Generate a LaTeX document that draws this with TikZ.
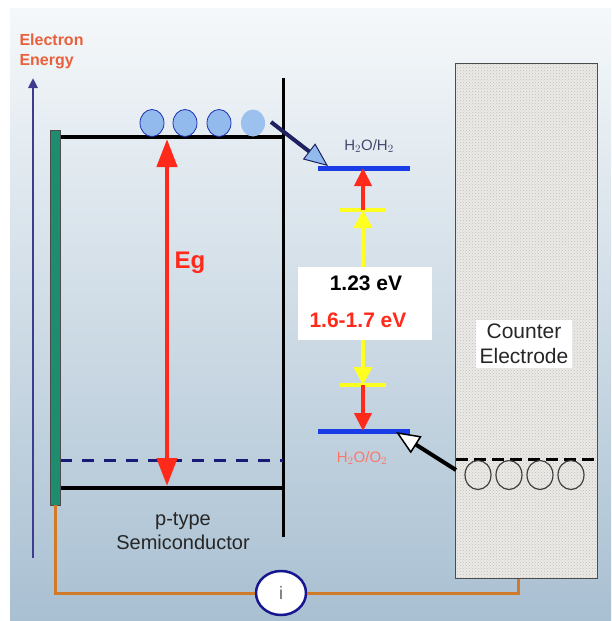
\documentclass[tikz,border=0pt]{standalone}
\usepackage{fontspec}
\setmainfont{Liberation Sans}
\usetikzlibrary{arrows.meta,shapes.geometric,patterns}
\definecolor{bgtop}{HTML}{F5F8FA}
\definecolor{bgbot}{HTML}{A9C0D2}
\definecolor{axisblue}{HTML}{3E3C8E}
\definecolor{contact}{HTML}{1E8C6E}
\definecolor{ered}{HTML}{FF2A1A}
\definecolor{eyellow}{HTML}{FFFF22}
\definecolor{redox}{HTML}{1A3CE6}
\definecolor{wire}{HTML}{D17A2A}
\definecolor{labelred}{HTML}{E8603C}
\definecolor{electron}{HTML}{92BAEC}
\definecolor{navy}{HTML}{1F2060}
\definecolor{electrode}{HTML}{ECEAE6}
\tikzset{
 band/.style={line width=3.5pt,black},
 redarrow/.style={line width=4pt,ered,-{Triangle[width=17pt,length=18pt]}},
 yelarrow/.style={line width=4pt,eyellow,-{Triangle[width=18pt,length=18pt]}},
 yelbar/.style={line width=4pt,eyellow},
 redoxline/.style={line width=5pt,redox},
 blob/.style={ellipse,minimum width=24pt,minimum height=27pt,inner sep=0pt,fill=electron,draw=redox!60!navy,line width=0.8pt},
 hole/.style={ellipse,minimum width=26pt,minimum height=29pt,inner sep=0pt,draw=black!75,line width=1.2pt},
 txt/.style={font=\fontsize{20}{24}\selectfont,text=black!85,align=center},
}
\begin{document}
\begin{tikzpicture}[x=1pt,y=-1pt]
\useasboundingbox (0,0) rectangle (611,621);
\shade[top color=bgtop,bottom color=bgbot] (10,8) rectangle (611,620);

% energy axis
\node[labelred,font=\fontsize{16}{20}\selectfont\bfseries,align=left,anchor=north west] (axislabel) at (16,30) {Electron\\Energy};
\coordinate (axisbot) at (33,558);
\coordinate (axistop) at (33,78);
\draw[axisblue,line width=2.5pt,-{Triangle[width=9pt,length=10pt]}] (axisbot)--(axistop);

% semiconductor
\coordinate (cbl) at (58,137);
\coordinate (cbr) at (283,137);
\coordinate (vbl) at (58,488);
\coordinate (vbr) at (283,488);
\coordinate (edgetop) at (283,78);
\coordinate (edgebot) at (283,537);
\draw[band] (cbl)--(cbr);
\draw[band] (vbl)--(vbr);
\draw[line width=3pt] (edgetop)--(edgebot);
\draw[navy!85!blue,line width=3pt,dash pattern=on 12pt off 10pt] (60,460)--(283,460);
\node[draw=black!70,fill=contact,minimum width=10pt,minimum height=375pt,inner sep=0pt] (contactbar) at (55,317.5) {};
\coordinate (egtop) at (167,139);
\coordinate (egbot) at (167,486);
\draw[line width=4.5pt,ered,{Triangle[width=20pt,length=28pt]}-{Triangle[width=20pt,length=28pt]}] (egbot)--(egtop);
\node[text=ered,font=\fontsize{24}{28}\selectfont\bfseries] (eg) at (190,263) {Eg};
\node[txt] (ptype) at (183,531) {p-type\\Semiconductor};

% electrons
\node[blob] (e1) at (152,123) {};
\node[blob] (e2) at (185,123) {};
\node[blob] (e3) at (219,123) {};
\node[blob,draw=none,fill=electron!90!white] (e4) at (253,123) {};

% redox levels
\coordinate (hydl) at (318,168);
\coordinate (hydr) at (410,168);
\coordinate (oxl) at (318,431);
\coordinate (oxr) at (410,431);
\draw[redoxline] (hydl)--(hydr);
\draw[redoxline] (oxl)--(oxr);
\node[text=navy!60!gray,font=\fontsize{15}{17}\selectfont] (hydlabel) at (369,146) {H$_2$O/H$_2$};
\node[text=ered!65!white,font=\fontsize{15}{17}\selectfont] (oxlabel) at (362,458) {H$_2$O/O$_2$};
\coordinate (ytop) at (363,210);
\coordinate (ybot) at (363,385);
\draw[yelbar] (340,210)--(386,210);
\draw[yelbar] (340,385)--(386,385);
\draw[redarrow] (ytop)--(363,168);
\draw[redarrow] (ybot)--(363,431);
\draw[yelbar] (363,267)--(363,340);
\node[fill=white,minimum width=134pt,minimum height=73pt,inner sep=0pt] (gap) at (365,303.5) {};
\node[font=\fontsize{21}{25}\selectfont\bfseries] (val1) at (366,283) {1.23 eV};
\node[text=ered,font=\fontsize{21}{25}\selectfont\bfseries] (val2) at (358,320) {1.6-1.7 eV};
\draw[yelarrow] (gap.north -| ytop)--(ytop);
\draw[yelarrow] (gap.south -| ybot)--(ybot);

% counter electrode
\node[draw=black!70,line width=1pt,fill=electrode,minimum width=142pt,minimum height=515pt,inner sep=0pt] (counter) at (526,320.5) {};
\fill[pattern=crosshatch dots,pattern color=black!25] (455,63) rectangle (597,578);
\draw[black!70,line width=1pt] (455,63) rectangle (597,578);
\node[txt,fill=white,inner sep=4pt,font=\fontsize{21}{25}\selectfont] (celabel) at (524,344) {Counter\\Electrode};
\draw[black,line width=3pt,dash pattern=on 12pt off 6pt] (456,459)--(598,459);
\foreach \name/\xx in {h1/478,h2/509,h3/540,h4/571}
  \node[hole] (\name) at (\xx,475) {};

% charge transfer
\coordinate (estart) at (271,122);
\coordinate (eend) at (328,166);
\draw[navy,line width=4pt,-{Triangle[width=20pt,length=24pt,line width=1pt,fill=electron]}] (estart)--(eend);
\coordinate (hstart) at (456,470);
\coordinate (hend) at (396,432);
\draw[black,line width=4pt,-{Triangle[width=20pt,length=24pt,line width=1.5pt,fill=white]}] (hstart)--(hend);

% external circuit
\node[ellipse,draw=navy!70!blue,line width=2.5pt,fill=white,minimum width=50pt,minimum height=44pt,inner sep=0pt,text=black!60,font=\fontsize{18}{20}\selectfont] (meter) at (281,593) {i};
\coordinate (wirel) at (55,593);
\coordinate (wirer) at (518,593);
\draw[wire,line width=3pt] (contactbar.south)--(wirel)--(meter.west);
\draw[wire,line width=3pt] (meter.east)--(wirer)--(counter.south -| wirer);
\end{tikzpicture}
\end{document}
